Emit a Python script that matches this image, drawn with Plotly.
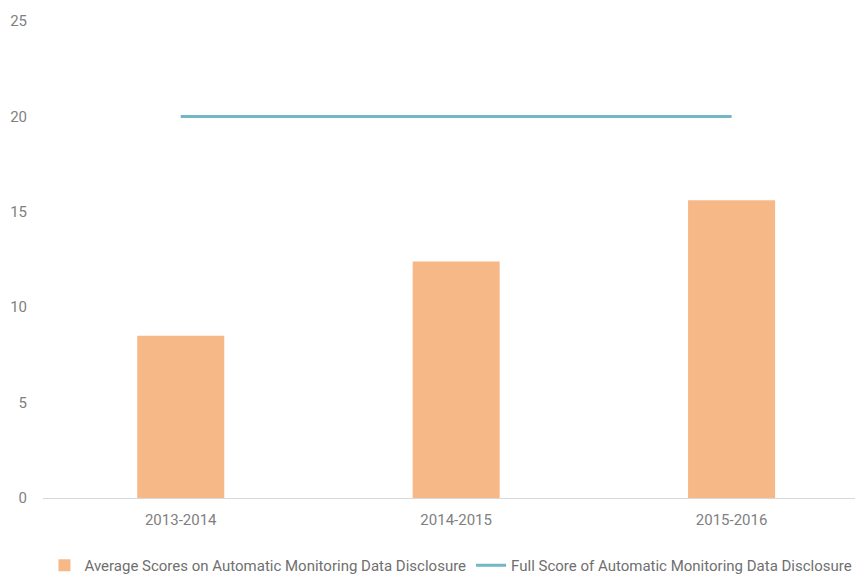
import plotly.graph_objects as go

# School-year periods on the x axis
periods = ["2013-2014", "2014-2015", "2015-2016"]
# Average scores for automatic monitoring data disclosure
avg_scores = [8.5, 12.4, 15.6]
# Full score available in each period
full_scores = [20, 20, 20]

bar_name = "Average Scores on Automatic Monitoring Data Disclosure"
line_name = "Full Score of Automatic Monitoring Data Disclosure"

fig = go.Figure()
fig.add_trace(go.Bar(
    x=periods, y=avg_scores, name=bar_name,
    marker=dict(color="#f7b888", line=dict(width=0)),
    width=0.316,
))
fig.add_trace(go.Scatter(
    x=periods, y=full_scores, name=line_name, mode="lines",
    line=dict(color="#72b7c3", width=3),
))

fig.update_layout(
    width=855, height=574,
    margin=dict(l=43, r=0, t=21, b=76, autoexpand=False),
    paper_bgcolor="white", plot_bgcolor="white",
    font=dict(family="Roboto, sans-serif", size=15, color="#7f7f7f"),
    showlegend=True,
    legend=dict(
        orientation="h", xref="container", yref="container",
        x=0.052, xanchor="left", y=0.015, yanchor="middle",
        font=dict(size=15, color="#6f6f6f"), itemwidth=30,
        bgcolor="rgba(0,0,0,0)",
    ),
    bargap=0.684,
)
fig.update_xaxes(
    range=[-0.5, 2.448], showgrid=False, showline=True,
    linecolor="#d9d9d9", linewidth=1, ticks="", zeroline=False,
    ticklabelstandoff=8,
    tickfont=dict(size=15, color="#7f7f7f"),
)
fig.update_yaxes(
    range=[0, 25], dtick=5, showgrid=False, showline=False, zeroline=False,
    ticks="outside", ticklen=12, tickcolor="rgba(0,0,0,0)",
    tickfont=dict(size=15, color="#7f7f7f"),
)

fig.write_html("out.html")
